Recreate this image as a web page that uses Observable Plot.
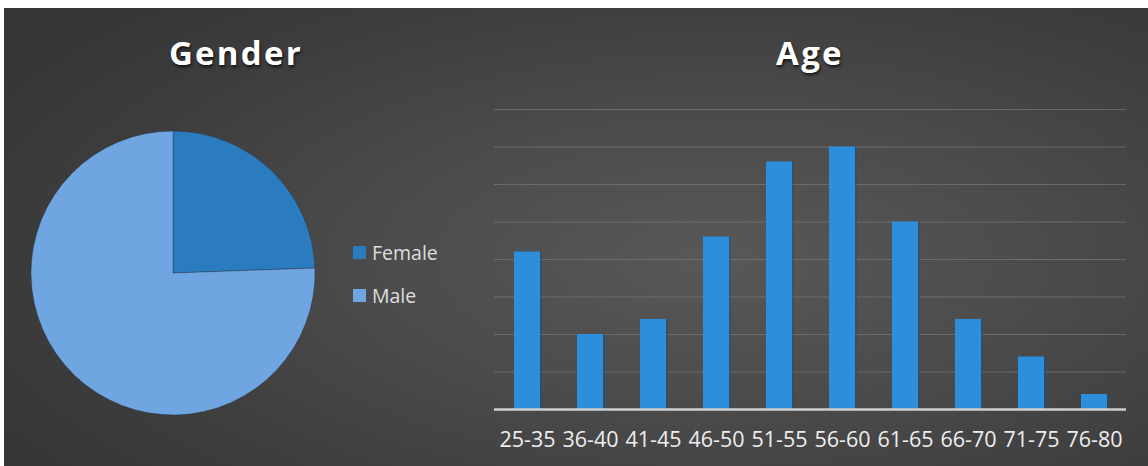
<!DOCTYPE html>
<html>
<head>
<meta charset="utf-8">
<script src="https://cdn.jsdelivr.net/npm/d3@7"></script>
<script src="https://cdn.jsdelivr.net/npm/@observablehq/plot@0.6"></script>
<style>
  html, body { margin: 0; padding: 0; background: #ffffff; }
  #frame {
    position: absolute; left: 4px; top: 8px; width: 1144px; height: 458px;
    background: radial-gradient(ellipse 75% 80% at 62% 55%, #585858 0%, #4b4b4b 40%, #3d3d3d 75%, #353535 100%);
    overflow: hidden;
  }
  .title {
    position: absolute; color: #ffffff; font-family: "Open Sans", sans-serif;
    font-weight: 700; font-size: 33px; letter-spacing: 2.3px;
    text-shadow: 1px 2px 3px rgba(0,0,0,0.7);
    transform: translateX(-50%); white-space: nowrap; line-height: 1;
  }
  .legend { position: absolute; font-family: "Open Sans", sans-serif; font-size: 19.5px; color: #dedede; }
  .legend .item { display: flex; align-items: center; height: 43px; }
  .legend .sw { width: 13px; height: 13px; margin-right: 6px; }
  .plot { position: absolute; top: 0; }
</style>
</head>
<body>
<div id="frame"></div>
<script>
// ---- data ----
const genderCategories = ["Female", "Male"];
const genderCounts = [44, 136];
const genderColors = ["#2b7cbf", "#6fa6e2"];

const ageCategories = ["25-35", "36-40", "41-45", "46-50", "51-55", "56-60", "61-65", "66-70", "71-75", "76-80"];
const ageCounts = [21, 10, 12, 23, 33, 35, 25, 12, 7, 2];
const ageTicks = [5, 10, 15, 20, 25, 30, 35, 40];

const frame = document.getElementById("frame");
const OX = 4, OY = 8; // frame offset

// titles
function addTitle(text, cx, top) {
  const d = document.createElement("div");
  d.className = "title"; d.textContent = text;
  d.style.left = (cx - OX) + "px"; d.style.top = (top - OY) + "px";
  frame.appendChild(d);
}
addTitle("Gender", 236, 36);
addTitle("Age", 810, 36);

// ---- pie ----
const genderData = genderCategories.map((g, i) => ({gender: g, count: genderCounts[i]}));
const pieMark = (index, scales, values, dimensions, context) => {
  const cx = scales.x(0), cy = scales.y(0);
  const r = scales.x(1) - scales.x(0);
  const arcs = d3.pie().sort(null).value(d => d.count)(genderData);
  const arc = d3.arc().innerRadius(0).outerRadius(r);
  const g = d3.create("svg:g").attr("transform", `translate(${cx},${cy})`);
  g.selectAll("path").data(arcs).join("path")
    .attr("d", arc)
    .attr("fill", d => scales.color(d.data.gender))
    .attr("stroke", "rgba(30,40,55,0.45)")
    .attr("stroke-width", 0.8);
  return g.node();
};
const pie = Plot.plot({
  width: 350, height: 458,
  margin: 0,
  x: {domain: [-1, 1], range: [31 - OX, 315 - OX], axis: null},
  y: {domain: [-1, 1], range: [415 - OY, 131 - OY], axis: null},
  color: {domain: genderCategories, range: genderColors},
  style: {background: "transparent", overflow: "visible"},
  marks: [pieMark]
});
pie.classList.add("plot");
pie.style.left = "0px";
frame.appendChild(pie);

// legend
const legend = document.createElement("div");
legend.className = "legend";
legend.style.left = (353 - OX) + "px";
legend.style.top = (231 - OY) + "px";
genderCategories.forEach((g, i) => {
  const it = document.createElement("div"); it.className = "item";
  const sw = document.createElement("div"); sw.className = "sw"; sw.style.background = genderColors[i];
  const tx = document.createElement("span"); tx.textContent = g;
  it.appendChild(sw); it.appendChild(tx); legend.appendChild(it);
});
frame.appendChild(legend);

// ---- bars ----
const ageData = ageCategories.map((a, i) => ({age: a, count: ageCounts[i]}));
const bx0 = 460;
const bars = Plot.plot({
  width: 1148 - bx0 - OX, height: 458,
  marginLeft: 494 - bx0, marginRight: 1148 - 1126 - OX,
  marginTop: 109 - OY, marginBottom: 466 - 409,
  style: {background: "transparent", overflow: "visible"},
  x: {domain: ageCategories, paddingInner: 0.59, paddingOuter: 0.295, label: null},
  y: {domain: [0, 40], axis: null},
  marks: [
    Plot.gridY(ageTicks, {stroke: "#8a8a8a", strokeOpacity: 0.5, strokeWidth: 1}),
    Plot.barY(ageData, {x: "age", y: "count", fill: "#1d4f7a", fillOpacity: 0.5, dx: 2}),
    Plot.barY(ageData, {x: "age", y: "count", fill: "#2d8edc"}),
    Plot.ruleY([0], {stroke: "#cfcfcf", strokeWidth: 2.5}),
    Plot.axisX({tickSize: 0, tickPadding: 22, fontSize: 21.5, fill: "#eeeeee", fontFamily: "Open Sans", label: null})
  ]
});
bars.classList.add("plot");
bars.style.left = (bx0 - OX) + "px";
frame.appendChild(bars);
</script>
</body>
</html>
